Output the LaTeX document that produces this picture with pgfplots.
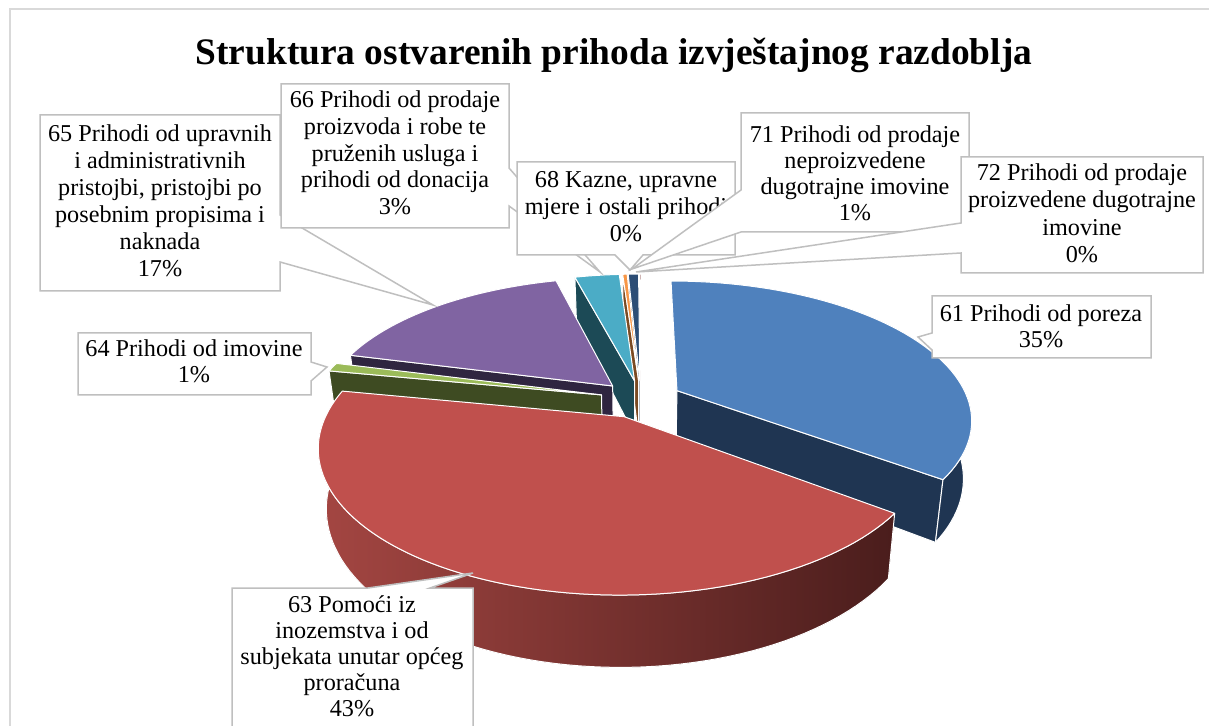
\documentclass[border=0pt]{standalone}
\usepackage{pgfplots}
\pgfplotsset{compat=1.18}
\usepackage{pgfplotstable}
\usepackage{fontspec}
\setmainfont{Liberation Serif}

\definecolor{c61}{HTML}{4F81BD}\definecolor{d61}{HTML}{1F3552}
\definecolor{c63}{HTML}{C0504D}\definecolor{d63a}{HTML}{A44642}\definecolor{d63b}{HTML}{4A1D1C}
\definecolor{c64}{HTML}{9BBB59}\definecolor{d64}{HTML}{3E4B22}
\definecolor{c65}{HTML}{8064A2}\definecolor{d65}{HTML}{2F2540}
\definecolor{c66}{HTML}{4BACC6}\definecolor{d66}{HTML}{1C4A56}
\definecolor{c68}{HTML}{F79646}\definecolor{d68}{HTML}{7B4A22}
\definecolor{c71}{HTML}{2C4D75}\definecolor{d71}{HTML}{15253A}
\definecolor{c72}{HTML}{772C2A}\definecolor{d72}{HTML}{3B1514}
\definecolor{frame}{HTML}{D9D9D9}
\definecolor{boxline}{HTML}{BFBFBF}

% shares of the revenue structure (percent)
\pgfplotstableread{
code value
61 35.2
63 42.8
64 1.0
65 16.9
66 3.0
68 0.3
71 0.7
72 0.1
}\piedata

\def\acc{0}
\pgfplotsforeachungrouped \i in {0,1,...,7}{%
  \pgfplotstablegetelem{\i}{value}\of\piedata
  \let\val\pgfplotsretval
  \pgfmathsetmacro\tb{90-3.6*\acc}%
  \pgfmathsetmacro\acc{\acc+\val}%
  \pgfmathsetmacro\ta{90-3.6*\acc}%
  \expandafter\xdef\csname tA\i\endcsname{\ta}%
  \expandafter\xdef\csname tB\i\endcsname{\tb}%
}

\newcommand\radwall[2]{%
  \filldraw[#2, draw=white, line width=0.5pt, line join=round]
   ({PX(\ou,\ov)},{PY(\ou,\ov)})
   -- ({PX(\ou+cos(#1),\ov+sin(#1))},{PY(\ou+cos(#1),\ov+sin(#1))})
   -- ({BX(\ou+cos(#1),\ov+sin(#1))},{BY(\ou+cos(#1),\ov+sin(#1))})
   -- ({BX(\ou,\ov)},{BY(\ou,\ov)}) -- cycle;}

\newcommand\slice[3]{%
  \edef\ta{\csname tA#1\endcsname}%
  \edef\tb{\csname tB#1\endcsname}%
  \pgfmathsetmacro\bm{(\ta+\tb)/2}%
  \pgfmathsetmacro\ou{0.14*cos(\bm)}%
  \pgfmathsetmacro\ov{0.14*sin(\bm)}%
  \pgfmathtruncatemacro\ns{max(2,abs(\tb-\ta)/2+2)}%
  \pgfmathtruncatemacro\visA{cos(\ta)>0.001 ? 1 : 0}%
  \pgfmathtruncatemacro\visB{cos(\tb)<-0.001 ? 1 : 0}%
  \ifnum\visA=1 \radwall{\ta}{#3}\fi
  \ifnum\visB=1 \radwall{\tb}{#3}\fi
  \pgfmathsetmacro\na{max(\ta,-180)}%
  \pgfmathsetmacro\nb{min(\tb,0)}%
  \pgfmathtruncatemacro\visC{\nb>\na+0.01 ? 1 : 0}%
  \ifnum\visC=1
    \pgfmathtruncatemacro\nsc{max(2,(\nb-\na)/2+2)}%
    \filldraw[#3, draw=white, line width=0.5pt, line join=round]
      plot[domain=\na:\nb, samples=\nsc, variable=\t] ({PX(\ou+cos(\t),\ov+sin(\t))},{PY(\ou+cos(\t),\ov+sin(\t))})
      -- plot[domain=\nb:\na, samples=\nsc, variable=\t] ({BX(\ou+cos(\t),\ov+sin(\t))},{BY(\ou+cos(\t),\ov+sin(\t))})
      -- cycle;
  \fi
  \filldraw[fill=#2, draw=white, line width=0.5pt, line join=round]
    ({PX(\ou,\ov)},{PY(\ou,\ov)})
    -- plot[domain=\ta:\tb, samples=\ns, variable=\t] ({PX(\ou+cos(\t),\ov+sin(\t))},{PY(\ou+cos(\t),\ov+sin(\t))})
    -- cycle;
}

\newcommand\lbl{\fontsize{12.1}{13.5}\selectfont}
\tikzset{cbox/.style={fill=white, draw=boxline, line width=0.75pt, line join=miter},
         lt/.style={anchor=base, font=\lbl, inner sep=0pt}}

\begin{document}
\begin{tikzpicture}[declare function={
  PX(\u,\v)=641+291*\u/(1+0.2*\v);
  PY(\u,\v)=399-134.6*\v/(1+0.2*\v);
  BX(\u,\v)=641+0.975*291*\u/(1+0.2*\v);
  BY(\u,\v)=399+(56-134.6*\v)/(1+0.2*\v);
}]
\begin{axis}[
  at={(0,0)}, anchor=south west,
  width=604.5pt, height=363pt, scale only axis,
  xmin=0, xmax=1209, ymin=0, ymax=726, y dir=reverse,
  hide axis, clip=false,
]
\pgfplotsextra{%
  % frame
  \draw[frame, line width=1pt] (10,726) -- (10,9) -- (1209,9);
  % title
  \node[anchor=base, inner sep=0pt, font=\fontsize{18.7}{21}\selectfont\bfseries] at (614,65)
    {Struktura ostvarenih prihoda izvještajnog razdoblja};
  % pie (far to near)
  \slice{7}{c72}{fill=d72}
  \slice{6}{c71}{fill=d71}
  \slice{5}{c68}{fill=d68}
  \slice{4}{c66}{fill=d66}
  \slice{3}{c65}{fill=d65}
  \slice{0}{c61}{fill=d61}
  \slice{2}{c64}{fill=d64}
  \slice{1}{c63}{left color=d63a, right color=d63b}
  % 65
  \draw[cbox] (40,115) -- (280,115) -- (280,215) -- (433,305) -- (280,262) -- (280,291) -- (40,291) -- cycle;
  \node[lt] at (160,142) {65 Prihodi od upravnih};
  \node[lt] at (160,169) {i administrativnih};
  \node[lt] at (160,196) {pristojbi, pristojbi po};
  \node[lt] at (160,223) {posebnim propisima i};
  \node[lt] at (160,250) {naknada};
  \node[lt] at (160,277) {17\%};
  % 66
  \draw[cbox] (281,84) -- (509,84) -- (509,168) -- (600,272) -- (509,206) -- (509,228) -- (281,228) -- cycle;
  \node[lt] at (395,108) {66 Prihodi od prodaje};
  \node[lt] at (395,135) {proizvoda i robe te};
  \node[lt] at (395,162) {pruženih usluga i};
  \node[lt] at (395,188) {prihodi od donacija};
  \node[lt] at (395,215) {3\%};
  % 68
  \draw[cbox] (517,162) -- (735,162) -- (735,255) -- (643,255) -- (630,270) -- (615,255) -- (517,255) -- cycle;
  \node[lt] at (626,188) {68 Kazne, upravne};
  \node[lt] at (626,215) {mjere i ostali prihodi};
  \node[lt] at (626,242) {0\%};
  % 71
  \draw[cbox] (741,113) -- (969,113) -- (969,232) -- (741,232) -- (632,269) -- (741,190) -- cycle;
  \node[lt] at (855,143) {71 Prihodi od prodaje};
  \node[lt] at (855,169) {neproizvedene};
  \node[lt] at (855,195) {dugotrajne imovine};
  \node[lt] at (855,221) {1\%};
  % 72
  \draw[cbox] (961,157) -- (1203,157) -- (1203,273) -- (961,273) -- (961,253) -- (636,272) -- (961,223) -- cycle;
  \node[lt] at (1082,181) {72 Prihodi od prodaje};
  \node[lt] at (1082,208) {proizvedene dugotrajne};
  \node[lt] at (1082,236) {imovine};
  \node[lt] at (1082,263) {0\%};
  % 61
  \draw[cbox] (932,296) -- (1151,296) -- (1151,358) -- (932,358) -- (932,350) -- (918,337) -- (932,333) -- cycle;
  \node[lt] at (1041,322) {61 Prihodi od poreza};
  \node[lt] at (1041,348) {35\%};
  % 64
  \draw[cbox] (78,333) -- (311,333) -- (311,362) -- (327,367) -- (311,381) -- (311,395) -- (78,395) -- cycle;
  \node[lt] at (194,357) {64 Prihodi od imovine};
  \node[lt] at (194,383) {1\%};
  % 63
  \draw[cbox] (232,730) -- (232,588) -- (368,588) -- (473,573) -- (430,588) -- (473,588) -- (473,730);
  \node[lt] at (352,612) {63 Pomoći iz};
  \node[lt] at (352,638) {inozemstva i od};
  \node[lt] at (352,664) {subjekata unutar općeg};
  \node[lt] at (352,690) {proračuna};
  \node[lt] at (352,716) {43\%};
}
\end{axis}
\pgfresetboundingbox
\path (0,0) rectangle (604.5pt,363pt);
\end{tikzpicture}
\end{document}
